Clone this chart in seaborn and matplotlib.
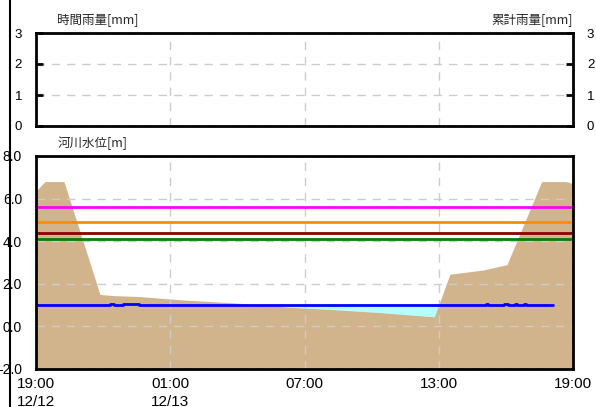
import numpy as np
import matplotlib
matplotlib.use("Agg")
import matplotlib.pyplot as plt
import seaborn as sns
from matplotlib.lines import Line2D

# hours after 12/12 19:00
tick_hours = [0, 6, 12, 18, 24]
tick_labels = ["19:00\n12/12", "01:00\n12/13", "07:00", "13:00", "19:00"]

# river cross-section (ground) drawn against the time axis
ground_t = [0, 0.4, 1.25, 2.86, 3.4, 4.65, 6.44, 8.9, 11.35, 13.1, 15.4, 17.8, 18.5, 20.0, 21.05, 22.6, 23.7, 24]
ground_lv = [6.35, 6.8, 6.8, 1.5, 1.45, 1.4, 1.25, 1.1, 0.9, 0.8, 0.65, 0.45, 2.45, 2.65, 2.9, 6.8, 6.8, 6.7]

# observed water level [m]
water_t = [0, 3.3, 3.5, 3.9, 4.6, 20.1, 20.2, 20.9, 21.1, 21.4, 21.5, 21.8, 21.9, 23.1]
water_lv = [1.0, 1.07, 1.0, 1.07, 1.0, 1.06, 1.0, 1.06, 1.0, 1.06, 1.0, 1.06, 1.0, 1.0]

# warning levels [m]
levels = [5.6, 4.9, 4.4, 4.1]
level_colors = ["#ff00ff", "#ff8c00", "#8b0000", "#008000"]

sns.set_theme(style="white")
plt.rcParams['font.family'] = ['Liberation Sans', 'Noto Sans CJK JP', 'DejaVu Sans']

fig = plt.figure(figsize=(5.96, 4.07), dpi=100)
ax1 = fig.add_axes([36/596, 1-126/407, 537/596, 93/407])
ax2 = fig.add_axes([36/596, 1-369/407, 537/596, 213/407])

grid_kw = dict(color="#cccccc", linestyle=(0, (6, 5)), linewidth=1)

# rainfall panel (empty)
ax1.set_xlim(0, 24)
ax1.set_ylim(0, 3)
ax1.set_yticks([0, 1, 2, 3])
ax1.set_xticks(tick_hours)
ax1.set_xticklabels([])
ax1.tick_params(axis="x", length=0)
ax1.tick_params(axis="y", direction="in", length=5, width=2, labelsize=9.5, pad=10,
                left=True, right=True, labelleft=True, labelright=True, colors="black")
ax1.grid(True, **grid_kw)
ax1.text(57/537*0 + 0.04, 1.08, "時間雨量[mm]", transform=ax1.transAxes, fontsize=9,
         family=['Noto Sans CJK JP'], ha="left", va="bottom")
ax1.text(1.0, 1.08, "累計雨量[mm]", transform=ax1.transAxes, fontsize=9,
         family=['Noto Sans CJK JP'], ha="right", va="bottom")

# water level panel
g = np.array(ground_lv)
w_on_g = np.interp(ground_t, water_t, water_lv)
ax2.fill_between(ground_t, g, w_on_g, where=g < w_on_g, interpolate=True,
                 color="#b4ffff", linewidth=0, zorder=1)
ax2.fill_between(ground_t, g, -2, color="#d2b48c", linewidth=0, zorder=2)
for lv, c in zip(levels, level_colors):
    ax2.axhline(lv, color=c, linewidth=2, zorder=3)
sns.lineplot(x=water_t, y=water_lv, ax=ax2, color="#0000ff", linewidth=2,
             drawstyle="steps-post", zorder=4)
ax2.set_xlim(0, 24)
ax2.set_ylim(-2, 8)
ax2.set_yticks([-2, 0, 2, 4, 6, 8])
ax2.set_yticklabels(["-2.0", "0.0", "2.0", "4.0", "6.0", "8.0"])
ax2.set_xticks(tick_hours)
ax2.set_xticklabels(tick_labels, fontsize=11, linespacing=1.3, va="top")
ax2.tick_params(axis="x", length=0, pad=6, colors="black")
ax2.tick_params(axis="y", direction="in", length=5, width=2, labelsize=10, pad=10, colors="black")
ax2.grid(True, **grid_kw)
ax2.set_axisbelow(False)
for gl in ax2.get_xgridlines() + ax2.get_ygridlines():
    gl.set_zorder(2.5)
ax2.text(0.04, 1.03, "河川水位[m]", transform=ax2.transAxes, fontsize=9,
         family=['Noto Sans CJK JP'], ha="left", va="bottom")

for ax in (ax1, ax2):
    for s in ax.spines.values():
        s.set_color("black")
        s.set_linewidth(2)
        s.set_zorder(5)

fig.add_artist(Line2D([9.5/596, 9.5/596], [0, 1], color="black", linewidth=1.5))

fig.savefig("out.png", dpi=100)
